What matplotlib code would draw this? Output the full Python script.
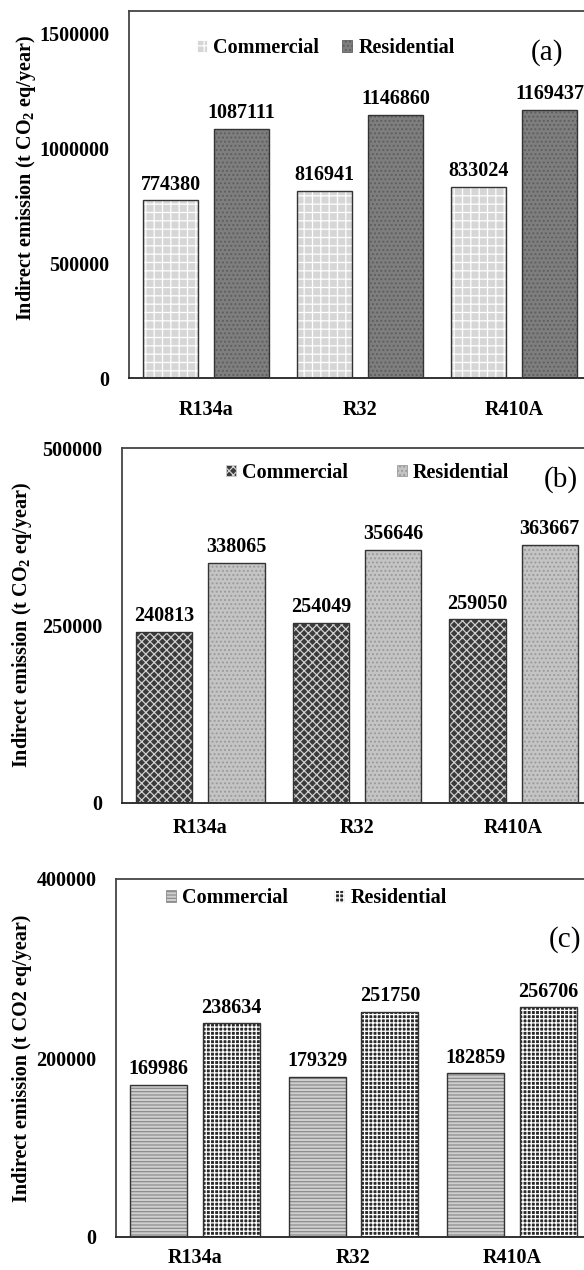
import matplotlib
matplotlib.use('Agg')
import matplotlib.pyplot as plt
from matplotlib.patches import Patch
import numpy as np

refrigerants = ['R134a', 'R32', 'R410A']

commercial_a = [774380, 816941, 833024]
residential_a = [1087111, 1146860, 1169437]

commercial_b = [240813, 254049, 259050]
residential_b = [338065, 356646, 363667]

commercial_c = [169986, 179329, 182859]
residential_c = [238634, 251750, 256706]

plt.rcParams['font.family'] = ['Liberation Serif', 'DejaVu Serif']
plt.rcParams['mathtext.fontset'] = 'custom'
plt.rcParams['mathtext.rm'] = 'Liberation Serif'
plt.rcParams['mathtext.bf'] = 'Liberation Serif:bold'
plt.rcParams['hatch.linewidth'] = 0.9

FS = 14.5
W, H = 584, 1270


def px_axes(fig, left, right, top, bottom):
    return fig.add_axes([left / W, 1 - bottom / H, (right - left) / W, (bottom - top) / H])


def hatched_bars(ax, x, vals, width, face, hatch, hcolor):
    # fill + hatch first, dark outline on top
    ax.bar(x, vals, width, color=face, edgecolor=hcolor, hatch=hatch, linewidth=0, zorder=2)
    ax.bar(x, vals, width, facecolor='none', edgecolor='#333333', linewidth=1.0, zorder=3)


def draw_panel(ax, comm, resi, ymax, yticks, comm_style, resi_style, letter,
               ylabel, label_xy, legend_xy, colspace, letter_xy, xpad):
    x = np.arange(len(refrigerants))
    width = 0.36
    off = 0.23
    hatched_bars(ax, x - off, comm, width, *comm_style)
    hatched_bars(ax, x + off, resi, width, *resi_style)

    for xs, vals in ((x - off, comm), (x + off, resi)):
        for xi, v in zip(xs, vals):
            ax.annotate(f'{v}', (xi, v), xytext=(0, 4), textcoords='offset points',
                        ha='center', va='bottom', fontsize=FS, fontweight='bold')

    ax.set_xlim(-0.5, 2.5)
    ax.set_ylim(0, ymax)
    ax.set_yticks(yticks)
    ax.set_yticklabels([str(t) for t in yticks], fontsize=FS, fontweight='bold')
    ax.set_xticks(x)
    ax.set_xticklabels(refrigerants, fontsize=FS, fontweight='bold')
    ax.tick_params(axis='y', length=0, pad=14)
    ax.tick_params(axis='x', length=0, pad=xpad)
    for s in ax.spines.values():
        s.set_color('#444444')
        s.set_linewidth(1.3)
    ax.spines['bottom'].set_color('#222222')

    handles = [Patch(facecolor=comm_style[0], edgecolor=comm_style[2], hatch=comm_style[1], lw=0.6),
               Patch(facecolor=resi_style[0], edgecolor=resi_style[2], hatch=resi_style[1], lw=0.6)]
    ax.legend(handles, ['Commercial', 'Residential'], loc='center left',
              bbox_to_anchor=legend_xy, ncol=2, frameon=False, borderpad=0,
              borderaxespad=0, handlelength=0.5, handleheight=0.5,
              handletextpad=0.3, columnspacing=colspace,
              prop={'size': FS, 'weight': 'bold'})

    ax.text(letter_xy[0], letter_xy[1], letter, transform=ax.transAxes,
            ha='center', va='center', fontsize=21)

    fig = ax.figure
    fig.text(label_xy[0] / W, 1 - label_xy[1] / H, ylabel, rotation=90,
             ha='center', va='center', fontsize=FS, fontweight='bold')


def main():
    fig = plt.figure(figsize=(5.84, 12.7), dpi=100)

    # (a)
    ax1 = px_axes(fig, 129, 591, 11, 378)
    draw_panel(ax1, commercial_a, residential_a, 1600000,
               [0, 500000, 1000000, 1500000],
               ('#d6d6d6', '++', 'white'), ('#7e7e7e', '....', '#5e5e5e'),
               '(a)', r'Indirect emission (t CO$_\mathbf{2}$ eq/year)',
               (26, 178), (0.147, 0.899), 1.15, (0.905, 0.886), 16)

    # (b)
    ax2 = px_axes(fig, 122, 592, 448, 803)
    draw_panel(ax2, commercial_b, residential_b, 500000,
               [0, 250000, 500000],
               ('#3a3a3a', 'xxxx', '#d0d0d0'), ('#c4c4c4', '....', '#9a9a9a'),
               '(b)', r'Indirect emission (t CO$_\mathbf{2}$ eq/year)',
               (22, 625), (0.222, 0.93), 2.4, (0.934, 0.91), 11)

    # (c)
    ax3 = px_axes(fig, 116, 591, 879, 1237)
    draw_panel(ax3, commercial_c, residential_c, 400000,
               [0, 200000, 400000],
               ('#cfcfcf', '-----', '#8c8c8c'), ('#2a2a2a', '++++', 'white'),
               '(c)', 'Indirect emission (t CO2 eq/year)',
               (22, 1058), (0.105, 0.947), 2.3, (0.945, 0.83), 8)

    fig.savefig('out.png', dpi=100)
    plt.close(fig)


if __name__ == '__main__':
    main()
